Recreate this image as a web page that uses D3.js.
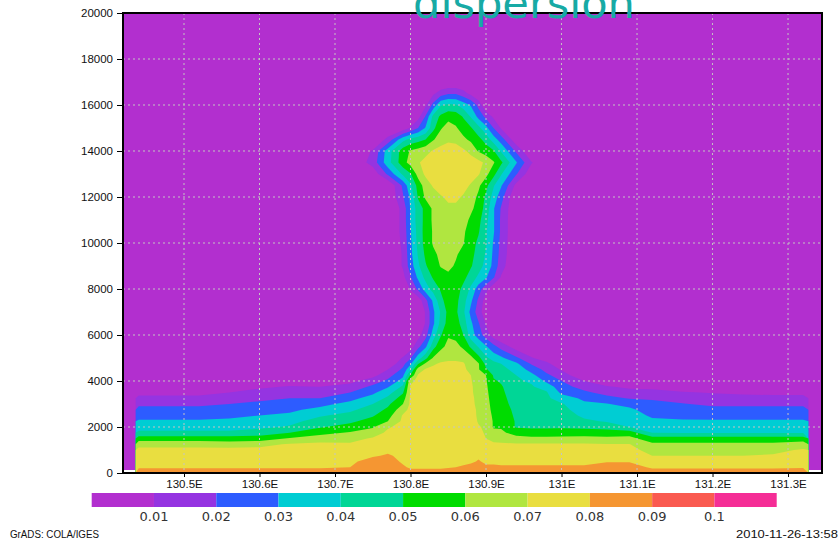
<!DOCTYPE html>
<html lang="en">
<head>
<meta charset="UTF-8">
<title>dispersion</title>
<script src="https://cdn.jsdelivr.net/npm/d3@7"></script>
<style>
  body { margin: 0; background: #fff; }
  svg { display: block; }
  .axis text { font-family: "Liberation Sans", Arial, sans-serif; font-size: 11.5px; fill: #111; }
  .axis line { stroke: #000; }
  .axis path { display: none; }
  .grid line { stroke: #c4c4c4; stroke-width: 1; stroke-dasharray: 2,3; }
  .cbar text { font-family: "DejaVu Sans", sans-serif; font-size: 13px; fill: #333; }
  .stamp { font-family: "Liberation Sans", Arial, sans-serif; font-size: 10px; fill: #111; }
</style>
</head>
<body>
<svg id="chart" width="839" height="542"></svg>
<script>
// grid columns (deg E) and the edges of the data
const lonCols = [130.44, 130.48, 130.52, 130.56, 130.60, 130.64, 130.68, 130.72, 130.75, 130.77,
                 130.79, 130.80, 130.81, 130.82, 130.83, 130.84, 130.85, 130.86, 130.87, 130.88,
                 130.89, 130.90, 130.91, 130.92, 130.94, 130.96, 130.98, 131.00, 131.03, 131.06,
                 131.09, 131.12, 131.16, 131.20, 131.24, 131.28, 131.32];
const lonEdges = [130.436, 131.327];

// grid rows (m), top to bottom
const heightRows = [17000, 16500, 16000, 15500, 15000, 14500, 14000, 13500, 13000, 12500,
                    12000, 11500, 11000, 10500, 10000, 9500, 9000, 8500, 8000, 7500,
                    7000, 6500, 6000, 5500, 5000, 4750, 4500, 4250, 4000, 3750,
                    3500, 3250, 3000, 2750, 2500, 2250, 2000, 1750, 1500, 1250,
                    1000, 750, 500, 250, 0];

// concentration, in units of 0.001 (one row per height, one value per column)
const conc = [
  [0,0,0,0,0,0,0,0,0,0, 0,0,0,0,0,0,0,0,0,0, 0,0,0,0,0,0,0,0,0,0, 0,0,0,0,0,0,0],
  [0,0,0,0,0,0,0,0,0,0, 0,0,0,0,8,15,19,19,14,7, 0,0,0,0,0,0,0,0,0,0, 0,0,0,0,0,0,0],
  [0,0,0,0,0,0,0,0,0,0, 0,0,0,8,23,39,42,41,35,29, 17,0,0,0,0,0,0,0,0,0, 0,0,0,0,0,0,0],
  [0,0,0,0,0,0,0,0,0,0, 0,0,6,21,43,52,57,56,49,39, 27,17,8,0,0,0,0,0,0,0, 0,0,0,0,0,0,0],
  [0,0,0,0,0,0,0,0,0,0, 3,11,20,31,47,59,64,61,56,51, 43,33,20,9,0,0,0,0,0,0, 0,0,0,0,0,0,0],
  [0,0,0,0,0,0,0,0,0,13, 37,43,46,50,59,65,68,67,62,58, 53,46,35,25,3,0,0,0,0,0, 0,0,0,0,0,0,0],
  [0,0,0,0,0,0,0,0,11,35, 55,61,64,67,71,74,76,75,72,67, 59,55,51,39,18,0,0,0,0,0, 0,0,0,0,0,0,0],
  [0,0,0,0,0,0,0,0,14,36, 56,64,69,73,75,77,78,78,77,75, 73,68,61,52,31,11,0,0,0,0, 0,0,0,0,0,0,0],
  [0,0,0,0,0,0,0,0,3,22, 42,49,64,72,76,78,78,78,76,74, 71,63,53,41,21,3,0,0,0,0, 0,0,0,0,0,0,0],
  [0,0,0,0,0,0,0,0,0,0, 22,38,54,65,71,75,76,75,73,69, 62,53,41,31,7,0,0,0,0,0, 0,0,0,0,0,0,0],
  [0,0,0,0,0,0,0,0,0,0, 19,32,51,62,66,69,72,72,69,65, 58,48,36,24,0,0,0,0,0,0, 0,0,0,0,0,0,0],
  [0,0,0,0,0,0,0,0,0,0, 13,31,45,53,62,66,68,68,66,62, 56,46,31,19,0,0,0,0,0,0, 0,0,0,0,0,0,0],
  [0,0,0,0,0,0,0,0,0,0, 13,31,45,53,62,65,66,66,64,58, 53,43,31,18,0,0,0,0,0,0, 0,0,0,0,0,0,0],
  [0,0,0,0,0,0,0,0,0,0, 13,29,44,54,61,64,65,64,61,57, 51,41,31,18,0,0,0,0,0,0, 0,0,0,0,0,0,0],
  [0,0,0,0,0,0,0,0,0,0, 12,28,43,54,61,63,64,63,60.5,54, 48,41,29,17,0,0,0,0,0,0, 0,0,0,0,0,0,0],
  [0,0,0,0,0,0,0,0,0,0, 11,27,41,52,58,62,63,61,57,53, 46,39,28,16,0,0,0,0,0,0, 0,0,0,0,0,0,0],
  [0,0,0,0,0,0,0,0,0,0, 11,25,38,49,56,60.5,62,59,55,51, 44,37,27,14,0,0,0,0,0,0, 0,0,0,0,0,0,0],
  [0,0,0,0,0,0,0,0,0,0, 7,19,32,43,51,56,58,57,53,45, 38,31,21,9,0,0,0,0,0,0, 0,0,0,0,0,0,0],
  [0,0,0,0,0,0,0,0,0,0, 0,11,22,35,44,51,57,55,47,38, 25,13,2,0,0,0,0,0,0,0, 0,0,0,0,0,0,0],
  [0,0,0,0,0,0,0,0,0,0, 0,0,4,17,32,47,55,53,44,32, 18,5,0,0,0,0,0,0,0,0, 0,0,0,0,0,0,0],
  [0,0,0,0,0,0,0,0,0,0, 0,0,0,11,28,41,53,52,42,27, 15,3,0,0,0,0,0,0,0,0, 0,0,0,0,0,0,0],
  [0,0,0,0,0,0,0,0,0,0, 0,0,0,11,28,43,54,55,45,32, 21,9,0,0,0,0,0,0,0,0, 0,0,0,0,0,0,0],
  [0,0,0,0,0,0,0,0,0,0, 0,0,6,16,35,49,59,57,50,35, 25,15,5,0,0,0,0,0,0,0, 0,0,0,0,0,0,0],
  [0,0,0,0,0,0,0,0,0,0, 0,5,17,28,46,57,63,63,58,48, 39,31,23,16,5,0,0,0,0,0, 0,0,0,0,0,0,0],
  [0,0,0,0,0,0,0,0,0,0, 11,19,35,47,61,67,69,69,67,63, 53,42,36,32,22,11,4,0,0,0, 0,0,0,0,0,0,0],
  [0,0,0,0,0,0,0,0,0,2, 17,28,49,62,69,71,71,71,71,65, 61,47,43,40,32,19,13,2,0,0, 0,0,0,0,0,0,0],
  [0,0,0,0,0,0,0,0,0,10, 22,39,65,71,72,72,72,72,72,67, 61,51,46,43,37,26,17,9,0,0, 0,0,0,0,0,0,0],
  [0,0,0,0,0,0,0,0,7,16, 28,51,71,72,72,72,72,72,72,70, 62,60,49,46,40,33,22,15,2,0, 0,0,0,0,0,0,0],
  [0,0,0,0,0,4,2,7,15,22, 34,68,72,72,72,73,73,73,73,71, 63,61,51,49,41,39,28,20,10,3, 0,0,0,0,0,0,0],
  [0,0,0,2,8,11,10,14,22,29, 42,71,72,73,73,73,73,73,73,72, 64,62,52,51,43,41,36,24,16,11, 8,7.5,4,1,0.5,0,0],
  [7,7,7,10,14,16,15,20,28,36, 49,71,73,73,73,74,74,74,74,72, 65,63,53,52,44,42,41,28,22,16.5, 14,13.5,11,9.3,8.3,7.3,7.3],
  [13,13,13,15,18,20,20,27,34,42, 55,72,74,74,74,74,74,74,74,73, 66,64,54,53,45,43,42,35,28,23, 19.3,19,16,14,13.4,13.3,13.3],
  [18,18,18,20,22,24,27,33,40,48, 60,72,74,74,74,75,75,75,75,73, 67,65,55,54,46,45,43,41,32,30.5, 27,22.5,20.5,18.4,18.2,18.2,18.2],
  [23,23,23,24,26,28,33,38,45,52, 66,73,75,75,75,75,75,75,75,74, 68,66,56,56,47,46,45,43,35,33, 32,25.5,24,22.7,22.7,22.7,22.7],
  [27,27,27,28,30,32,39,43,49,56, 71,74,75,75,75,75,75,75,75,75, 68,66,58,57,48,47,46,45,38,36, 34.5,28.5,27.5,27,27,27,27],
  [31,31,31,32,34,37,44,48,54,60, 72,74,76,76,76,76,76,76,76,75, 69,67,59,58,49,48,48,47,42,39, 37,32,31,31,31,31,31],
  [36,36,36,36,38,41,49,54,59,69, 73,75,76,76,76,76,76,76,76,76, 71,68,59,59,49,49,49,49,48,46, 40,36,35,35,35,35,35],
  [42,42,42,42,45,50,57,61,65,72, 74,76,77,77,77,77,77,77,77,77, 72,69,63,62,56,53,53,54,55,55, 55,40,39,39,39,39,39],
  [55,55,55,55,55,61,65,67,71,74, 75,76,77,77,77,77,77,77,77,77, 74,70,68,67,64,63,63,63,63,62, 63,54.5,54.5,54.5,54.5,54.5,55],
  [66,66,66,65,67,71,72,71,74,76, 76,77,78,78,78,78,78,78,78,78, 75,72,71,71,71,71,71,71,71,70.5, 70.3,62,62,62,62,62,64.5],
  [73,73,73,73,73,73,74,73,77,78, 77,78,78,78,78,78,78,78,78,78, 77,75,74,73,73,73,73,73,73,74, 73.5,66,66,66,66,67,71.3],
  [75,75,75,75,75,75,76,75,79,81, 78,78,79,79,79,79,79,79,79,79, 79,77,76,76,76,76,76,76,76,77, 76.5,70,70,70,70,71,74],
  [77,77,77,77,77,77,78,78,84,83, 79,79,79,79,79,79,79,79,79,79, 80.5,79,79,78,78,78,78,78,78,79.5, 79.5,74.5,74.5,74.5,74.5,75,77],
  [79,79,79,79,79,79,79,80,85,85, 81,79,79,79,79,79,79.5,80,80.5,82, 84,81,81,81,81,81,81,81,81,83, 83,79,79,79,79,79,79.5],
  [85,85,85,85,85,85,85,85,87,87, 84,83,83,83,83,83,83,83,84,85, 86,85,84,84,84,84,84,84,84,85, 85,84,84,84,84,84,84]
];

// shading levels and colours (first colour is below the first level)
const levels = [0.01, 0.02, 0.03, 0.04, 0.05, 0.06, 0.07, 0.08, 0.09, 0.1];
const bandColors = ["#b22fcf", "#9534e1", "#2d5cff", "#00cdd3", "#00d696", "#00dc00",
                    "#b0e640", "#e9de40", "#f59632", "#fa5a50", "#f52d96"];

const xTicks = [130.5, 130.6, 130.7, 130.8, 130.9, 131.0, 131.1, 131.2, 131.3];
const xTickLabels = ["130.5E", "130.6E", "130.7E", "130.8E", "130.9E", "131E", "131.1E", "131.2E", "131.3E"];
const yTicks = [0, 2000, 4000, 6000, 8000, 10000, 12000, 14000, 16000, 18000, 20000];

const svg = d3.select("#chart");
const plot = {left: 123, right: 822, top: 13, bottom: 473};

const x = d3.scaleLinear().domain([130.4192, 131.345]).range([plot.left, plot.right]);
const y = d3.scaleLinear().domain([0, 20000]).range([plot.bottom, plot.top]);

// contour grid index -> lon / height (cell i is centred on i + 0.5)
const nx = lonCols.length, ny = heightRows.length;
const colPos = d3.scaleLinear()
    .domain([0, ...d3.range(nx).map(i => i + 0.5), nx])
    .range([lonEdges[0], ...lonCols, lonEdges[1]]);
const rowPos = d3.scaleLinear()
    .domain([0, ...d3.range(ny).map(j => j + 0.5), ny])
    .range([heightRows[0], ...heightRows, heightRows[ny - 1]]);

// background shade (lowest band) over the frame
svg.append("rect")
    .attr("x", plot.left).attr("y", plot.top)
    .attr("width", plot.right - plot.left).attr("height", plot.bottom - plot.top - 3)
    .attr("fill", bandColors[0]);

const values = conc.flat().map(v => v / 1000);
const bands = d3.contours().size([nx, ny]).thresholds(levels)(values);

const proj = d3.geoTransform({
    point: function(px, py) { this.stream.point(x(colPos(px)), y(rowPos(py))); }
});
const path = d3.geoPath(proj);

svg.append("g")
    .selectAll("path")
    .data(bands)
    .join("path")
    .attr("d", path)
    .attr("fill", (d, i) => bandColors[i + 1]);

// dotted grid
const grid = svg.append("g").attr("class", "grid");
grid.selectAll("line.v").data(xTicks).join("line").attr("class", "v")
    .attr("x1", d => x(d)).attr("x2", d => x(d))
    .attr("y1", plot.top).attr("y2", plot.bottom);
grid.selectAll("line.h").data(yTicks.slice(1, -1)).join("line").attr("class", "h")
    .attr("x1", plot.left).attr("x2", plot.right)
    .attr("y1", d => y(d)).attr("y2", d => y(d));

// axes
svg.append("g").attr("class", "axis")
    .attr("transform", `translate(${plot.left},0)`)
    .call(d3.axisLeft(y).tickValues(yTicks).tickSize(6).tickPadding(4).tickFormat(d3.format("d")));
svg.append("g").attr("class", "axis")
    .attr("transform", `translate(0,${plot.bottom})`)
    .call(d3.axisBottom(x).tickValues(xTicks).tickSize(4).tickPadding(3).tickFormat((d, i) => xTickLabels[i]));

svg.append("rect")
    .attr("x", plot.left).attr("y", plot.top)
    .attr("width", plot.right - plot.left).attr("height", plot.bottom - plot.top)
    .attr("fill", "none").attr("stroke", "#000").attr("stroke-width", 2);

// colour bar
const cb = d3.scaleLinear().domain([0, bandColors.length]).range([91.7, 776.7]);
const cbar = svg.append("g").attr("class", "cbar");
cbar.selectAll("rect").data(bandColors).join("rect")
    .attr("x", (d, i) => cb(i)).attr("y", 493)
    .attr("width", (d, i) => cb(i + 1) - cb(i)).attr("height", 14)
    .attr("fill", d => d);
cbar.selectAll("text").data(levels).join("text")
    .attr("x", (d, i) => cb(i + 1)).attr("y", 521)
    .attr("text-anchor", "middle")
    .text(d => String(d));

// title and stamps
svg.append("text")
    .attr("x", 413).attr("y", 18)
    .attr("textLength", 222).attr("lengthAdjust", "spacingAndGlyphs")
    .style("font-family", "'DejaVu Sans', sans-serif").style("font-size", "43px")
    .attr("fill", "#17aaa5")
    .text("dispersion");

svg.append("text").attr("class", "stamp")
    .attr("x", 10).attr("y", 538)
    .attr("textLength", 89).attr("lengthAdjust", "spacingAndGlyphs")
    .text("GrADS: COLA/IGES");
svg.append("text").attr("class", "stamp")
    .attr("x", 736).attr("y", 538)
    .attr("textLength", 102).attr("lengthAdjust", "spacingAndGlyphs")
    .text("2010-11-26-13:58");
</script>
</body>
</html>
